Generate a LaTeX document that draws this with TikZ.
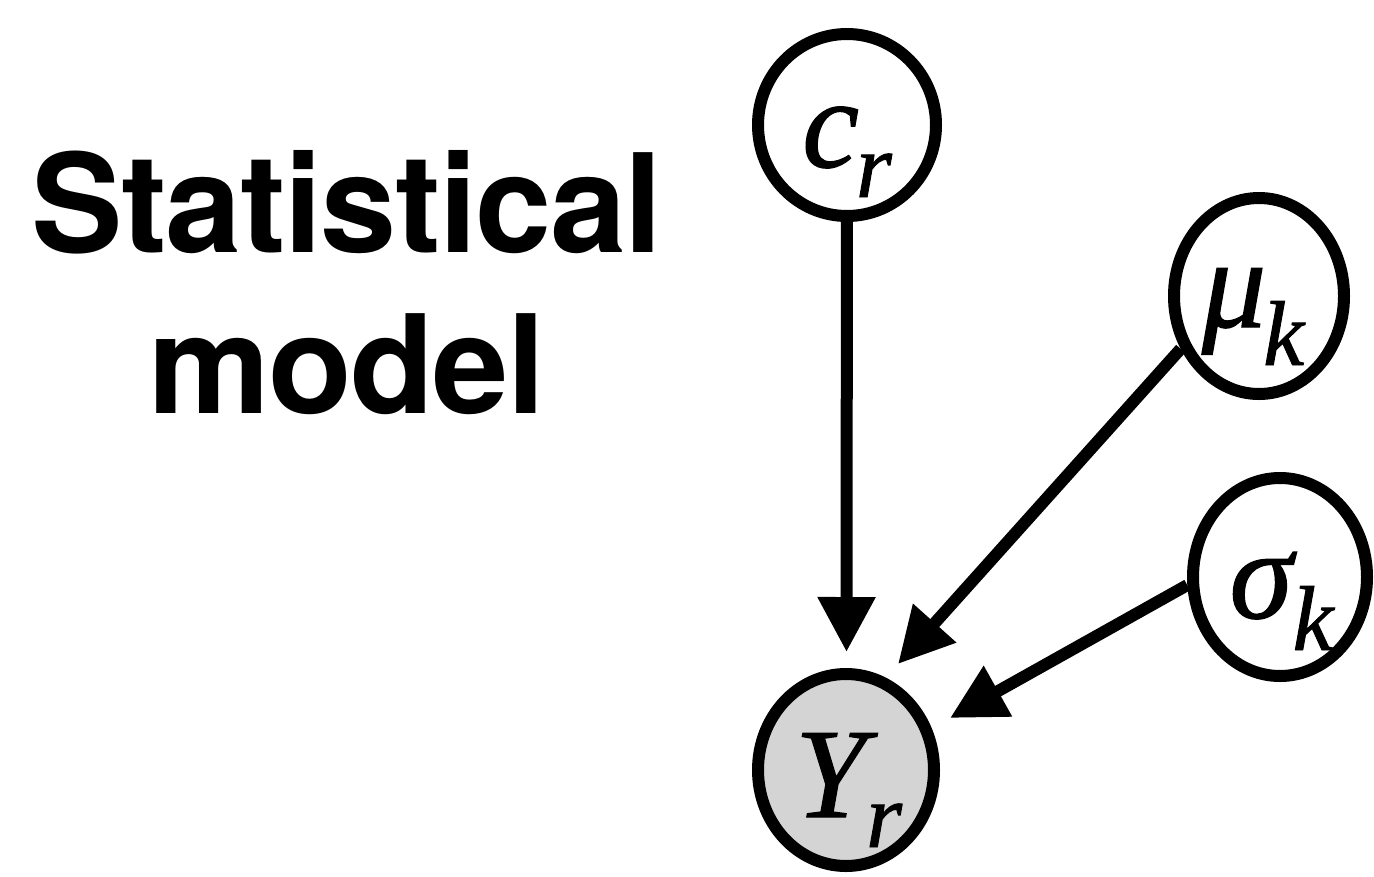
\documentclass[tikz,border=0pt]{standalone}
\usepackage{fontspec}
\usetikzlibrary{shapes.geometric,arrows.meta}
\newfontfamily\headfont[LetterSpace=-1.2]{TeX Gyre Heros}
\newfontfamily\varfont[ItalicFeatures={FakeBold=1}]{Liberation Serif}
\definecolor{obsgray}{RGB}{212,212,212}
\newcommand{\varnode}[6]{\makebox[0pt]{\hspace*{#2pt}\raisebox{#1pt}[0pt][0pt]{\varfont\itshape\fontsize{128}{128}\selectfont #3\kern#6pt\raisebox{#4pt}{\fontsize{92}{92}\selectfont #5}}}}
\tikzset{
  var/.style={ellipse, draw=black, line width=12pt, fill=white, inner sep=0pt},
  obs/.style={var, fill=obsgray},
  edge/.style={line width=12pt, -{Triangle[length=55pt,width=55pt]}},
}
\begin{document}
\begin{tikzpicture}[x=1pt,y=-1pt]
\useasboundingbox (0,0) rectangle (1374,876);
\node[font=\headfont\bfseries\fontsize{137}{161}\selectfont, align=center, anchor=base] (title) at (347,413) {Statistical\\model};
\node[var, minimum width=178pt, minimum height=182pt] (c) at (847,125) {\varnode{-42}{0}{c}{-30}{r}{-3}};
\node[obs, minimum width=176pt, minimum height=192pt] (y) at (846,770) {\varnode{-47}{5}{Y}{-30}{r}{0}};
\node[var, minimum width=170pt, minimum height=196pt] (mu) at (1259,296) {\varnode{-31}{-12}{μ}{-38}{k}{-3}};
\node[var, minimum width=174pt, minimum height=198pt] (sigma) at (1280,577) {\varnode{-41}{3}{σ}{-32}{k}{0}};
\coordinate (tipc) at (846.5,652);
\coordinate (tipmu) at (898,664);
\coordinate (tipsigma) at (950,718);
\draw[edge] (c) -- (tipc);
\draw[edge] (mu.214) -- (tipmu);
\draw[edge] (sigma.185) -- (tipsigma);
\end{tikzpicture}
\end{document}
